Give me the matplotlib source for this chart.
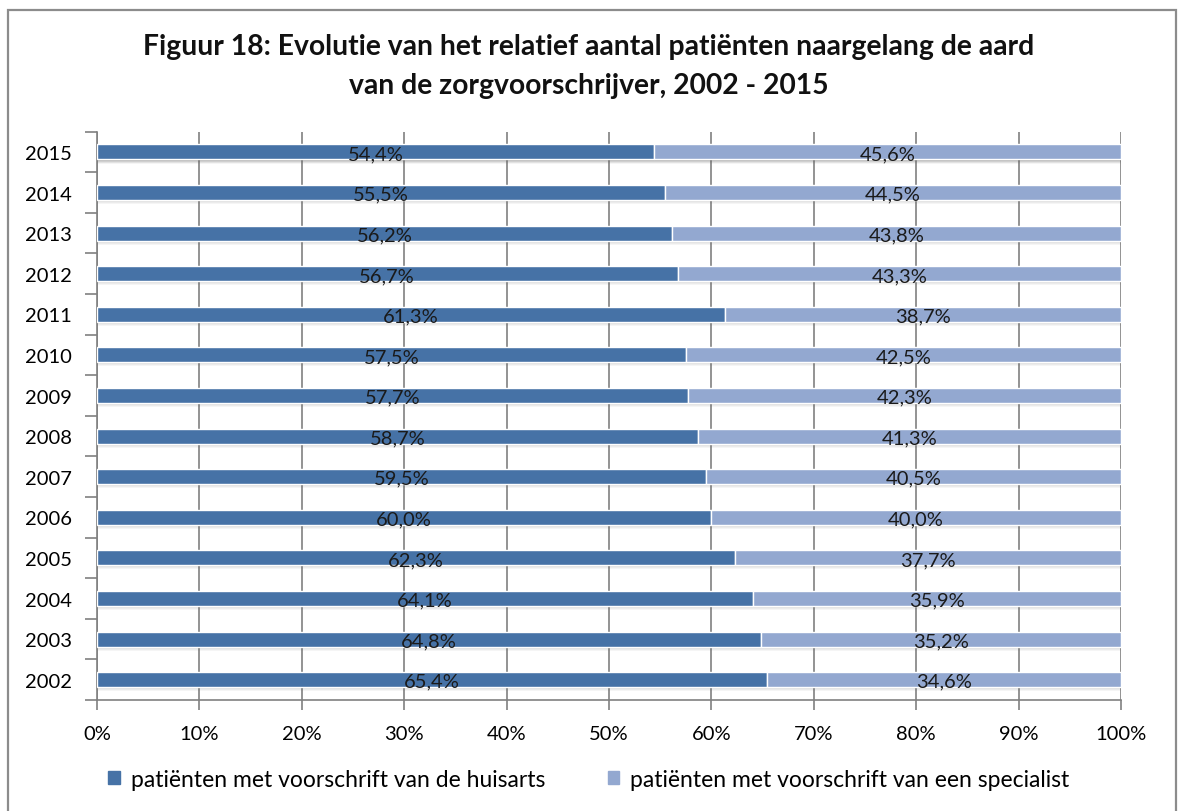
import matplotlib.pyplot as plt
import matplotlib.patches as mpatches
import numpy as np

plt.rcParams['font.family'] = ['Lato', 'DejaVu Sans']

years = ['2002', '2003', '2004', '2005', '2006', '2007', '2008',
         '2009', '2010', '2011', '2012', '2013', '2014', '2015']
huisarts = [65.4, 64.8, 64.1, 62.3, 60.0, 59.5, 58.7,
            57.7, 57.5, 61.3, 56.7, 56.2, 55.5, 54.4]
specialist = [34.6, 35.2, 35.9, 37.7, 40.0, 40.5, 41.3,
              42.3, 42.5, 38.7, 43.3, 43.8, 44.5, 45.6]
series_names = ['patiënten met voorschrift van de huisarts',
                'patiënten met voorschrift van een specialist']
title = ('Figuur 18: Evolutie van het relatief aantal patiënten naargelang de aard\n'
         'van de zorgvoorschrijver, 2002 - 2015')

c_dark = '#4672a6'
c_light = '#93a8d0'

fig = plt.figure(figsize=(11.78, 8.12), dpi=100)
ax = fig.add_axes([0.0823, 0.1367, 0.8693, 0.6999])

y = np.arange(len(years))
h = 0.37
total = np.array(huisarts) + np.array(specialist)

# soft drop shadow under each bar
px = 1 / 40.6
for k, a in enumerate([0.30, 0.20, 0.12, 0.06]):
    ax.barh(y - h / 2 - (k + 0.5) * px, total, height=px * 1.05, left=0,
            color='#606060', alpha=a, linewidth=0, zorder=2)

b1 = ax.barh(y, huisarts, height=h, color=c_dark, edgecolor='white',
             linewidth=1.0, zorder=3)
b2 = ax.barh(y, specialist, height=h, left=huisarts, color=c_light,
             edgecolor='white', linewidth=1.0, zorder=3)

for yi, v1, v2 in zip(y, huisarts, specialist):
    ax.text(v1 / 2, yi - 0.04, f'{v1:.1f}%'.replace('.', ','), ha='center',
            va='center', fontsize=14.5, color='#1a1a1a', zorder=4)
    ax.text(v1 + v2 / 2, yi - 0.04, f'{v2:.1f}%'.replace('.', ','),
            ha='center', va='center', fontsize=14.5, color='#1a1a1a', zorder=4)

ax.set_xlim(0, 100)
ax.set_ylim(-0.5, len(years) - 0.5)
ax.set_xticks(np.arange(0, 101, 10))
ax.set_xticklabels([f'{v}%' for v in range(0, 101, 10)], fontsize=14.5)
ax.set_yticks(y)
ax.set_yticklabels(years, fontsize=14.5)
ax.set_yticks(np.arange(-0.5, len(years), 1), minor=True)
ax.tick_params(axis='y', which='major', length=0, pad=18)
ax.tick_params(axis='y', which='minor', length=9, color='#808080', width=1.2)
ax.tick_params(axis='x', length=7, color='#808080', width=1.2, pad=11)
ax.xaxis.grid(True, color='#808080', linewidth=1.2, zorder=1)
ax.set_axisbelow(True)

for side in ['top', 'right']:
    ax.spines[side].set_visible(False)
for side in ['left', 'bottom']:
    ax.spines[side].set_color('#808080')
    ax.spines[side].set_linewidth(1.2)

fig.text(0.5, 0.918, title, ha='center', va='center', fontsize=20.3,
         fontweight='bold', linespacing=1.6, color='#111111')

handles = [mpatches.Patch(color=c_dark), mpatches.Patch(color=c_light)]
fig.legend(handles, series_names, loc='center', bbox_to_anchor=(0.5, 0.039),
           ncol=2, frameon=False, fontsize=16.5, handlelength=0.5,
           handleheight=0.5, handletextpad=0.5, columnspacing=2.7)

# outer chart border
fig.patches.append(mpatches.Rectangle((8 / 1178, -0.01), 1169 / 1178 - 0.0005,
                                      1.01 - 11 / 812, transform=fig.transFigure,
                                      fill=False, edgecolor='#8c8c8c',
                                      linewidth=1.6))

fig.savefig('out.png', dpi=100)
